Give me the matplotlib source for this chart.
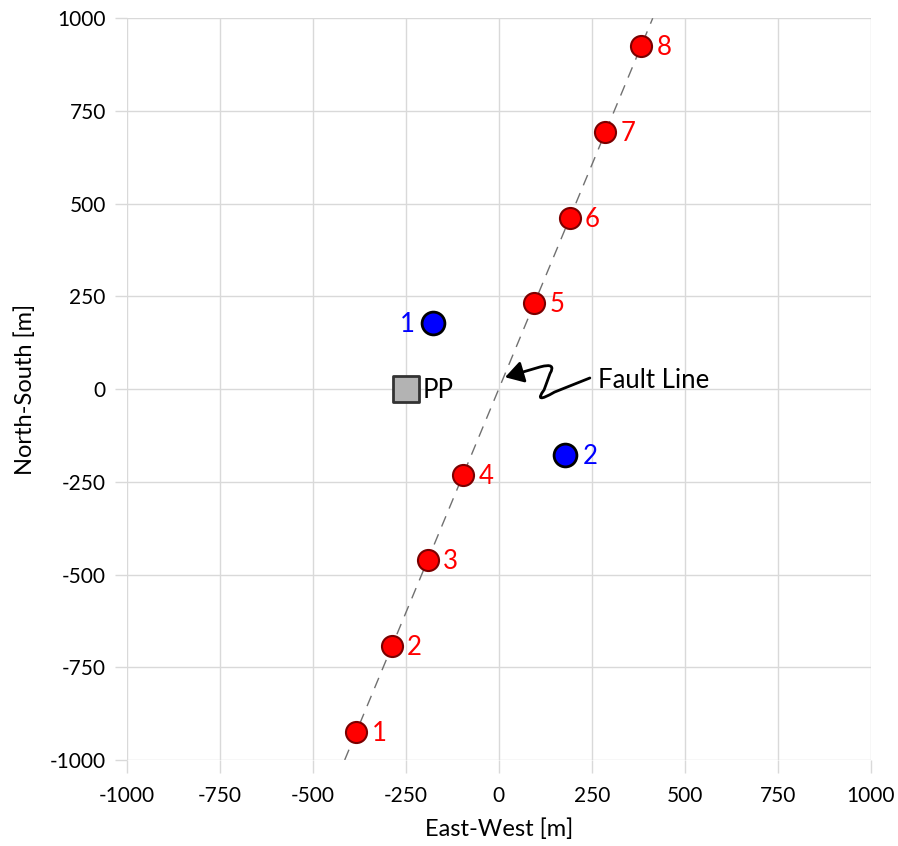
""" Well layout along a fault line. """

import matplotlib
matplotlib.use('Agg')
import matplotlib.pyplot as plt
from matplotlib.path import Path
from matplotlib.patches import FancyArrowPatch

plt.rcParams['font.family'] = ['Lato', 'DejaVu Sans']
plt.rcParams['axes.unicode_minus'] = False

# wells along the fault (red)
red_x = [-383, -287, -191, -96, 96, 191, 287, 383]
red_y = [-924, -693, -462, -231, 231, 462, 693, 924]
red_labels = ['1', '2', '3', '4', '5', '6', '7', '8']

# off-fault wells (blue)
blue_x = [-177, 177]
blue_y = [177, -177]
blue_labels = ['1', '2']

# production point
pp_x = [-250]
pp_y = [0]

# fault line end points
fault_x = [-414, 414]
fault_y = [-1000, 1000]

ticks = [-1000, -750, -500, -250, 0, 250, 500, 750, 1000]

fig = plt.figure(figsize=(8.98, 8.46), dpi=100)
ax = fig.add_axes([0.1411, 0.1017, 0.8285, 0.8767])

grid_col = '#d9d9d9'
ax.set_xlim(-1000, 1000)
ax.set_ylim(-1000, 1000)
ax.set_xticks(ticks)
ax.set_yticks(ticks)
ax.grid(True, color=grid_col, lw=1.0, zorder=0)
ax.set_axisbelow(True)
for s in ax.spines.values():
    s.set_visible(False)
ax.tick_params(axis='both', length=9, width=1.0, color=grid_col,
               labelsize=15, labelcolor='#000000')
ax.tick_params(axis='x', pad=10)
ax.tick_params(axis='y', pad=6)

# fault line
ax.plot(fault_x, fault_y, ls=(0, (8, 6)), color='#707070', lw=1.0, zorder=2)

# markers
ax.scatter(red_x, red_y, s=230, c='#ff0000', edgecolors='#7a0000',
           linewidths=1.5, zorder=4)
ax.scatter(blue_x, blue_y, s=270, c='#0000ff', edgecolors='#000000',
           linewidths=2.0, zorder=4)
ax.scatter(pp_x, pp_y, s=330, marker='s', c='#b3b3b3', edgecolors='#333333',
           linewidths=2.0, zorder=4)

fs = 18.5
for x, y, t in zip(red_x, red_y, red_labels):
    ax.annotate(t, (x, y), xytext=(11, -1), textcoords='offset points',
                color='#ff0000', fontsize=fs, ha='left', va='center')
ax.annotate(blue_labels[0], (blue_x[0], blue_y[0]), xytext=(-13, -1),
            textcoords='offset points', color='#0000ff', fontsize=fs,
            ha='right', va='center')
ax.annotate(blue_labels[1], (blue_x[1], blue_y[1]), xytext=(13, -1),
            textcoords='offset points', color='#0000ff', fontsize=fs,
            ha='left', va='center')
ax.annotate('PP', (pp_x[0], pp_y[0]), xytext=(12, -1),
            textcoords='offset points', color='#000000', fontsize=fs,
            ha='left', va='center')

# squiggly "Fault Line" arrow
verts = [(245, 30), (150, -8), (92, -42), (122, -2),
         (138, 42), (156, 72), (112, 60), (17, 32)]
codes = [Path.MOVETO, Path.LINETO, Path.CURVE3, Path.CURVE3,
         Path.LINETO, Path.CURVE3, Path.CURVE3, Path.LINETO]
arrow = FancyArrowPatch(path=Path(verts, codes),
                        arrowstyle='-|>,head_length=0.5,head_width=0.3',
                        mutation_scale=22, color='#000000', lw=2.0, zorder=5)
ax.add_patch(arrow)
ax.text(268, 22, 'Fault Line', fontsize=fs, ha='left', va='center')

ax.set_xlabel('East-West [m]', fontsize=17, labelpad=9)
ax.set_ylabel('North-South [m]', fontsize=17, labelpad=10)

fig.savefig('out.png', dpi=100)
